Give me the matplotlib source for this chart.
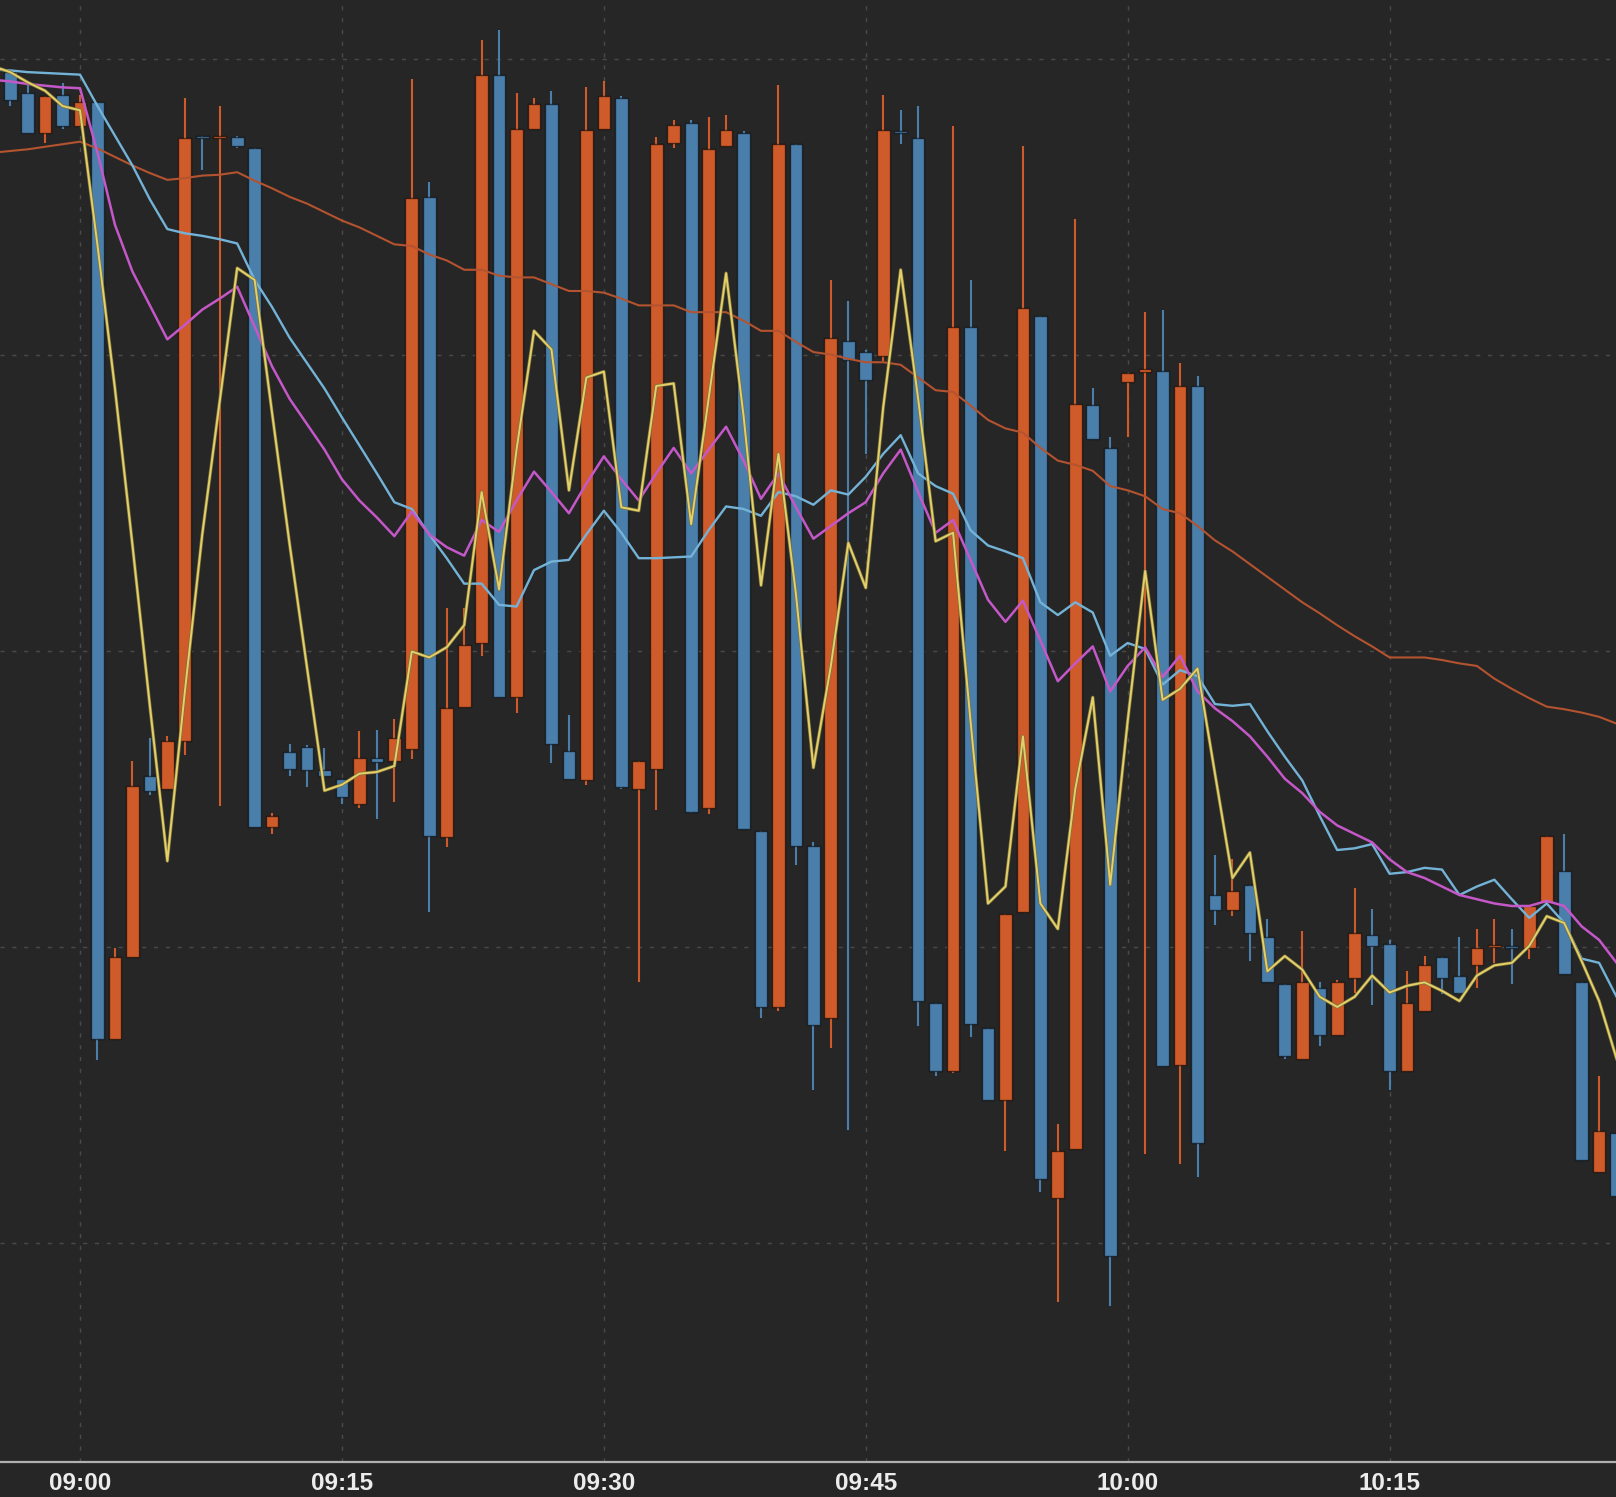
import matplotlib
matplotlib.use("Agg")
import matplotlib.pyplot as plt
import matplotlib.dates as mdates
import matplotlib.patheffects as pe
import pandas as pd

# 1-minute bars 08:56 .. 10:28
bar_times = pd.date_range("2024-03-15 08:56", "2024-03-15 10:28", freq="1min")
opens = [
    19.15, 18.90, 18.43, 18.88, 18.52, 18.80, 7.75, 8.72, 10.85, 10.70,
    11.27, 18.40, 18.37, 18.38, 18.25, 10.25, 11.13, 11.20, 10.92, 10.82,
    10.52, 11.07, 11.03, 11.17, 17.68, 10.13, 11.67, 12.42, 19.12, 11.78,
    18.48, 18.77, 11.15, 10.80, 18.48, 18.85, 10.70, 10.93, 18.32, 18.55,
    10.47, 18.28, 18.43, 10.20, 8.13, 18.30, 10.03, 8.00, 15.98, 15.85,
    15.80, 18.45, 18.37, 8.18, 7.38, 16.15, 7.88, 7.03, 9.25, 16.28,
    5.88, 6.45, 15.23, 14.72, 15.50, 15.62, 15.63, 7.45, 15.45, 9.45,
    9.27, 9.57, 8.95, 8.40, 7.52, 8.35, 7.80, 8.47, 8.98, 8.87,
    7.38, 8.08, 8.72, 8.50, 8.62, 8.84, 8.84, 8.82, 9.35, 9.73,
    8.43, 6.18, 6.65,
]
highs = [
    19.18, 19.00, 18.87, 19.02, 18.88, 18.80, 8.82, 11.03, 11.30, 11.32,
    18.85, 18.40, 18.75, 18.40, 18.25, 10.42, 11.23, 11.22, 11.18, 10.82,
    11.38, 11.40, 11.52, 19.07, 17.85, 12.83, 12.83, 19.53, 19.65, 18.90,
    18.85, 18.93, 11.57, 18.98, 19.05, 18.87, 11.03, 18.38, 18.58, 18.58,
    18.62, 18.65, 18.45, 10.20, 19.00, 18.30, 10.07, 16.70, 16.45, 15.88,
    18.88, 18.70, 18.75, 8.18, 18.52, 16.70, 7.88, 9.23, 18.28, 16.28,
    6.75, 17.42, 15.43, 14.85, 15.60, 16.32, 16.35, 15.72, 15.57, 9.92,
    9.88, 9.57, 9.17, 8.40, 9.03, 8.43, 8.45, 9.53, 9.28, 8.92,
    8.55, 8.73, 8.72, 8.95, 9.05, 9.17, 9.05, 9.32, 10.15, 10.17,
    8.43, 7.32, 6.65,
]
lows = [
    18.75, 18.43, 18.32, 18.48, 18.52, 7.50, 7.75, 8.72, 10.63, 10.70,
    11.10, 18.00, 10.50, 18.25, 10.25, 10.17, 10.85, 10.72, 10.84, 10.52,
    10.47, 10.35, 10.55, 11.05, 9.25, 10.02, 11.67, 12.27, 11.78, 11.60,
    18.48, 11.00, 10.82, 10.75, 18.48, 10.70, 8.42, 10.45, 18.25, 10.42,
    10.40, 18.28, 10.23, 8.00, 8.08, 9.80, 7.15, 7.65, 6.68, 14.65,
    15.75, 18.30, 7.90, 7.32, 7.35, 7.78, 7.03, 6.43, 9.25, 5.95,
    4.65, 6.45, 14.83, 4.60, 14.85, 6.40, 7.43, 6.28, 6.12, 9.10,
    9.20, 8.67, 8.43, 7.52, 7.52, 7.67, 7.80, 8.30, 8.15, 7.15,
    7.38, 8.08, 8.28, 8.28, 8.35, 8.65, 8.40, 8.70, 9.35, 8.52,
    6.33, 6.18, 5.90,
]
closes = [
    18.82, 18.43, 18.87, 18.52, 18.80, 7.75, 8.72, 10.74, 10.68, 11.27,
    18.37, 18.37, 18.40, 18.28, 10.25, 10.38, 10.93, 10.92, 10.85, 10.60,
    11.07, 11.02, 11.30, 17.67, 10.15, 11.65, 12.40, 19.12, 11.78, 18.48,
    18.77, 11.23, 10.82, 18.47, 18.87, 10.72, 11.03, 18.30, 18.53, 10.43,
    18.24, 18.47, 10.23, 8.13, 18.30, 10.03, 7.92, 16.02, 15.76, 15.52,
    18.47, 18.43, 8.20, 7.38, 16.15, 7.93, 7.03, 9.23, 16.37, 6.10,
    6.43, 15.24, 14.83, 5.20, 15.60, 15.64, 7.43, 15.45, 6.53, 9.27,
    9.50, 9.00, 8.43, 7.55, 8.43, 7.80, 8.43, 9.00, 8.85, 7.38,
    8.18, 8.63, 8.47, 8.30, 8.82, 8.86, 8.82, 9.32, 10.15, 8.52,
    6.33, 6.67, 5.90,
]

# moving-average overlays, one point per minute from 08:55
ma_times = pd.date_range("2024-03-15 08:55", "2024-03-15 10:28", freq="1min")
ma_fast = [
    19.22, 19.15, 19.03, 18.93, 18.75, 18.70, 17.11, 15.42, 13.58, 11.68,
    9.85, 11.84, 13.70, 15.27, 16.84, 16.70, 15.13, 13.59, 12.13, 10.68,
    10.75, 10.88, 10.90, 10.97, 12.32, 12.25, 12.37, 12.63, 14.20, 13.05,
    14.70, 16.10, 15.88, 14.22, 15.55, 15.62, 14.02, 13.98, 15.45, 15.48,
    13.82, 15.30, 16.78, 15.10, 13.10, 14.65, 13.00, 10.95, 12.15, 13.60,
    13.07, 15.20, 16.82, 15.30, 13.62, 13.72, 11.50, 9.35, 9.55, 11.32,
    9.35, 9.05, 10.70, 11.78, 9.57, 11.50, 13.27, 11.75, 11.88, 12.12,
    10.88, 9.65, 9.95, 8.55, 8.73, 8.57, 8.25, 8.13, 8.25, 8.50,
    8.30, 8.38, 8.42, 8.32, 8.20, 8.50, 8.62, 8.65, 8.85, 9.20,
    9.12, 8.67, 8.20, 7.52,
]
ma_mid = [
    19.06, 19.04, 19.01, 18.99, 18.97, 18.96, 18.20, 17.35, 16.80, 16.40,
    16.00, 16.17, 16.35, 16.48, 16.62, 16.15, 15.68, 15.30, 15.00, 14.70,
    14.35, 14.10, 13.90, 13.68, 13.97, 13.70, 13.55, 13.45, 13.87, 13.73,
    14.10, 14.44, 14.20, 13.95, 14.30, 14.62, 14.35, 14.10, 14.42, 14.72,
    14.42, 14.70, 14.97, 14.57, 14.12, 14.42, 14.02, 13.65, 13.80, 13.95,
    14.08, 14.42, 14.70, 14.20, 13.72, 13.87, 13.40, 12.93, 12.67, 12.92,
    12.45, 11.97, 12.18, 12.38, 11.85, 12.15, 12.37, 12.02, 12.27, 11.85,
    11.65, 11.50, 11.32, 11.08, 10.82, 10.65, 10.43, 10.27, 10.17, 10.07,
    9.87, 9.72, 9.65, 9.55, 9.45, 9.40, 9.35, 9.32, 9.32, 9.38,
    9.32, 9.08, 8.92, 8.65,
]
ma_slow = [
    19.18, 19.17, 19.15, 19.14, 19.13, 19.12, 18.75, 18.40, 18.05, 17.65,
    17.30, 17.25, 17.22, 17.18, 17.13, 16.70, 16.38, 16.02, 15.72, 15.42,
    15.08, 14.75, 14.42, 14.08, 14.00, 13.70, 13.42, 13.12, 13.12, 12.87,
    12.85, 13.28, 13.38, 13.40, 13.70, 13.98, 13.72, 13.42, 13.42, 13.43,
    13.44, 13.75, 14.03, 14.00, 13.92, 14.20, 14.15, 14.05, 14.22, 14.17,
    14.38, 14.65, 14.87, 14.42, 14.27, 14.18, 13.75, 13.57, 13.50, 13.42,
    12.90, 12.75, 12.90, 12.78, 12.27, 12.42, 12.35, 11.93, 12.10, 12.03,
    11.70, 11.68, 11.70, 11.38, 11.08, 10.80, 10.38, 9.98, 10.00, 10.05,
    9.70, 9.72, 9.77, 9.75, 9.45, 9.55, 9.63, 9.40, 9.18, 9.35,
    9.12, 8.70, 8.65, 8.25,
]
ma_long = [
    18.20, 18.22, 18.24, 18.27, 18.30, 18.33, 18.25, 18.15, 18.05, 17.96,
    17.88, 17.90, 17.93, 17.94, 17.97, 17.87, 17.78, 17.68, 17.60, 17.50,
    17.40, 17.32, 17.22, 17.12, 17.10, 17.00, 16.93, 16.82, 16.82, 16.75,
    16.73, 16.73, 16.65, 16.57, 16.57, 16.55, 16.48, 16.40, 16.40, 16.40,
    16.32, 16.32, 16.32, 16.22, 16.10, 16.10, 15.97, 15.85, 15.82, 15.77,
    15.73, 15.73, 15.70, 15.55, 15.40, 15.38, 15.22, 15.05, 14.95, 14.90,
    14.72, 14.57, 14.52, 14.45, 14.27, 14.22, 14.15, 14.00, 13.95, 13.80,
    13.63, 13.50, 13.35, 13.20, 13.05, 12.90, 12.77, 12.63, 12.50, 12.38,
    12.25, 12.25, 12.25, 12.22, 12.18, 12.15, 12.00, 11.88, 11.77, 11.67,
    11.64, 11.60, 11.55, 11.47,
]

price_grid = [5.35, 8.84, 12.33, 15.82, 19.30]

BG = "#262626"
UP = "#d05b2a"
DOWN = "#4a7eab"
GRID = "#4a4a4a"

fig = plt.figure(figsize=(16.16, 14.97), dpi=100, facecolor=BG)
ax = fig.add_axes([0, 35 / 1497, 1, 1462 / 1497])
ax.set_facecolor(BG)

x = mdates.date2num(bar_times.to_pydatetime())
bar_w = 0.727 / 1440  # fraction of a minute, in days

for xi, o, h, l, c in zip(x, opens, highs, lows, closes):
    col = UP if c >= o else DOWN
    ax.vlines(xi, l, h, color=col, lw=1.5, zorder=2)
    ax.bar(xi, max(abs(c - o), 0.025), width=bar_w, bottom=min(o, c),
           color=col, edgecolor=(0, 0, 0, 0.55), linewidth=1.0, zorder=3)

xm = mdates.date2num(ma_times.to_pydatetime())
ax.plot(xm, ma_long, color="#b4532f", lw=1.5, zorder=4)
ax.plot(xm, ma_slow, color="#74b3d8", lw=1.7, zorder=5)
ax.plot(xm, ma_mid, color="#c458c8", lw=1.8, zorder=6)
ax.plot(xm, ma_fast, color="#e3d06a", lw=1.4, zorder=7,
        path_effects=[pe.Stroke(linewidth=2.4, foreground="#7d7238"), pe.Normal()])

ax.set_xlim(pd.Timestamp("2024-03-15 08:55:25"), pd.Timestamp("2024-03-15 10:27:58"))
ax.set_ylim(2.766, 20.0)

ax.xaxis.set_major_locator(mdates.MinuteLocator(byminute=[0, 15, 30, 45]))
ax.xaxis.set_major_formatter(mdates.DateFormatter("%H:%M"))
ax.set_yticks(price_grid)
ax.tick_params(axis="y", left=False, labelleft=False)
ax.tick_params(axis="x", length=0, pad=7, colors="#ececec")
for lab in ax.get_xticklabels():
    lab.set_fontfamily(["Liberation Sans", "DejaVu Sans"])
    lab.set_fontweight("bold")
    lab.set_fontsize(17.5)

ax.grid(True, color=GRID, linestyle=(0, (3, 5.5)), linewidth=1.0, zorder=0)
ax.set_axisbelow(True)

for side in ("top", "left", "right"):
    ax.spines[side].set_visible(False)
ax.spines["bottom"].set_color("#b0b0b0")
ax.spines["bottom"].set_linewidth(1.6)

fig.savefig("out.png", dpi=100, facecolor=BG)
